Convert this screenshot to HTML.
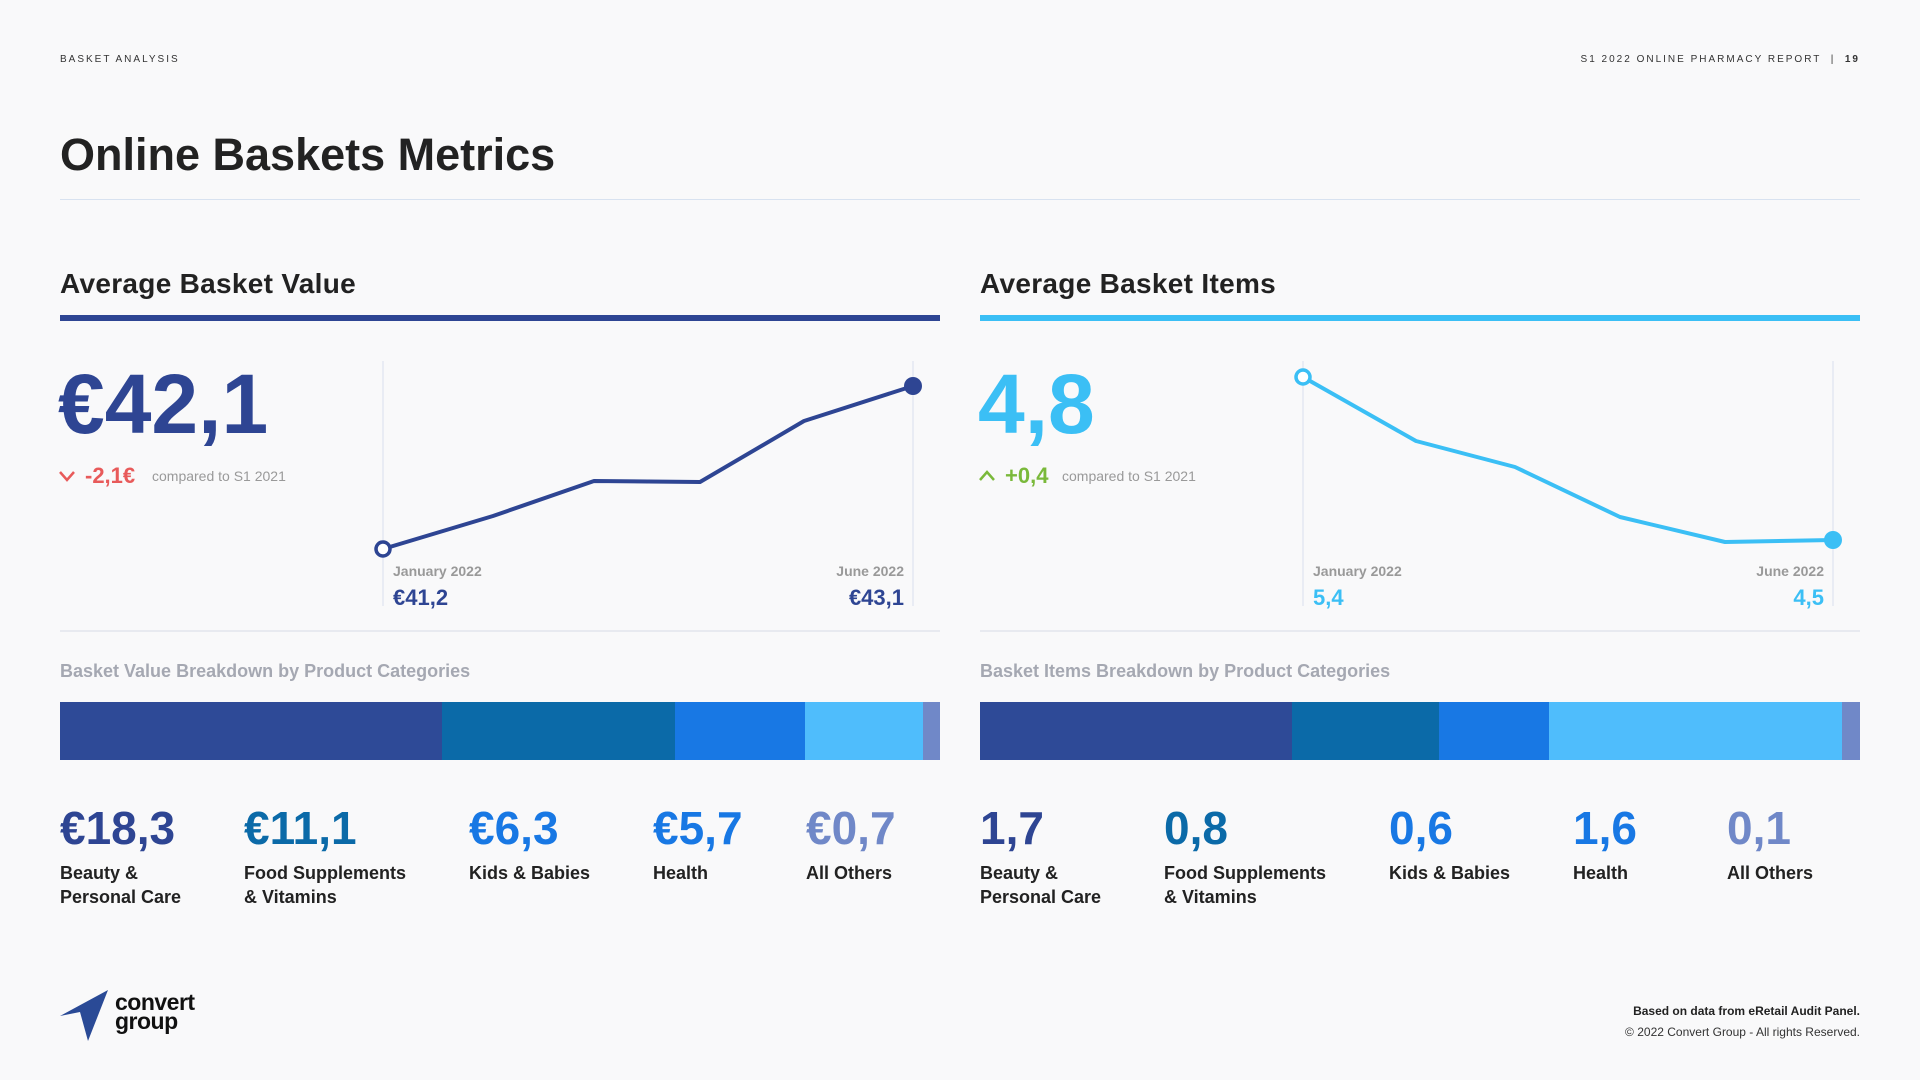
<!DOCTYPE html>
<html><head><meta charset="utf-8"><style>
*{margin:0;padding:0;box-sizing:border-box}
body{width:1920px;height:1080px;background:#f9f9fa;font-family:"Liberation Sans",sans-serif;position:relative;overflow:hidden;color:#222}
.a{position:absolute;white-space:nowrap;line-height:1}
.hd{font-size:10px;letter-spacing:2px;color:#333;top:55px}
.big{font-weight:bold;font-size:84px;letter-spacing:0px;top:362px}
.sub{font-size:22px;top:465px;font-weight:bold}
.cmp{font-size:14px;color:#999;top:469px}
.lab{font-size:14px;color:#999;font-weight:bold;top:564px}
.val{font-size:22px;font-weight:bold;top:587px}
.st{font-size:18px;font-weight:bold;color:#a5a8b2;top:662px}
.num{font-size:46px;font-weight:bold;letter-spacing:0px;top:805px}
.cat{font-size:18px;font-weight:bold;color:#222;line-height:24px;top:861px}
.seg{position:absolute;top:702px;height:58px}
</style></head><body>
<div class="a hd" style="left:60px">BASKET ANALYSIS</div>
<div class="a hd" style="right:60px">S1 2022 ONLINE PHARMACY REPORT &nbsp;| &nbsp;<b>19</b></div>
<div class="a" style="left:60px;top:132px;font-size:45px;font-weight:bold;color:#222">Online Baskets Metrics</div>
<div class="a" style="left:60px;top:199px;width:1800px;height:1px;background:#d8e2f0"></div>

<div class="a" style="left:60px;top:270px;font-size:28px;font-weight:bold;letter-spacing:0.3px">Average Basket Value</div>
<div class="a" style="left:980px;top:270px;font-size:28px;font-weight:bold;letter-spacing:0.3px">Average Basket Items</div>
<div class="a" style="left:60px;top:315px;width:880px;height:6px;background:#2e4593"></div>
<div class="a" style="left:980px;top:315px;width:880px;height:6px;background:#3bbff5"></div>

<div class="a big" style="left:58px;color:#2e4593">€42,1</div>
<div class="a big" style="left:978px;color:#3bbff5">4,8</div>
<svg class="a" style="left:58px;top:469px" width="20" height="14"><polyline points="2,3 9,11 16,3" fill="none" stroke="#e85a5a" stroke-width="2.5"/></svg>
<div class="a sub" style="left:85px;color:#e85a5a">-2,1€</div>
<div class="a cmp" style="left:152px">compared to S1 2021</div>
<svg class="a" style="left:978px;top:469px" width="20" height="14"><polyline points="2,11 9,3 16,11" fill="none" stroke="#7ab93a" stroke-width="2.5"/></svg>
<div class="a sub" style="left:1005px;color:#7ab93a">+0,4</div>
<div class="a cmp" style="left:1062px">compared to S1 2021</div>

<svg class="a" style="left:0;top:0" width="1920" height="1080">
<g stroke="#e4e8f2" stroke-width="1.5">
<line x1="383" y1="361" x2="383" y2="606"/><line x1="913" y1="361" x2="913" y2="606"/>
<line x1="1303" y1="361" x2="1303" y2="606"/><line x1="1833" y1="361" x2="1833" y2="606"/>
</g>
<polyline points="383,549 493,516 594,481 700,482 804,421 913,386" fill="none" stroke="#2e4593" stroke-width="4" stroke-linejoin="round"/>
<circle cx="383" cy="549" r="7" fill="#fff" stroke="#2e4593" stroke-width="3.5"/>
<circle cx="913" cy="386" r="9" fill="#2e4593"/>
<polyline points="1303,377 1416,441 1515,467 1620,517 1725,542 1833,540" fill="none" stroke="#3bbff5" stroke-width="4" stroke-linejoin="round"/>
<circle cx="1303" cy="377" r="7" fill="#fff" stroke="#3bbff5" stroke-width="3.5"/>
<circle cx="1833" cy="540" r="9" fill="#3bbff5"/>
<line x1="60" y1="631" x2="940" y2="631" stroke="#e2e5ec" stroke-width="1.5"/>
<line x1="980" y1="631" x2="1860" y2="631" stroke="#e2e5ec" stroke-width="1.5"/>
<polygon points="60,1016 108,990 88,1041 80,1012" fill="#2a4a96"/>
</svg>

<div class="a lab" style="left:393px">January 2022</div>
<div class="a lab" style="right:1016px">June 2022</div>
<div class="a val" style="left:393px;color:#2e4593">€41,2</div>
<div class="a val" style="right:1016px;color:#2e4593">€43,1</div>
<div class="a lab" style="left:1313px">January 2022</div>
<div class="a lab" style="right:96px">June 2022</div>
<div class="a val" style="left:1313px;color:#3bbff5">5,4</div>
<div class="a val" style="right:96px;color:#3bbff5">4,5</div>

<div class="a st" style="left:60px">Basket Value Breakdown by Product Categories</div>
<div class="a st" style="left:980px">Basket Items Breakdown by Product Categories</div>

<div class="seg" style="left:60px;width:382px;background:#2e4a97"></div>
<div class="seg" style="left:442px;width:233px;background:#0b6aa8"></div>
<div class="seg" style="left:675px;width:130px;background:#1878e4"></div>
<div class="seg" style="left:805px;width:118px;background:#4fbdfc"></div>
<div class="seg" style="left:923px;width:17px;background:#7088c8"></div>
<div class="seg" style="left:980px;width:312px;background:#2e4a97"></div>
<div class="seg" style="left:1292px;width:147px;background:#0b6aa8"></div>
<div class="seg" style="left:1439px;width:110px;background:#1878e4"></div>
<div class="seg" style="left:1549px;width:293px;background:#4fbdfc"></div>
<div class="seg" style="left:1842px;width:18px;background:#7088c8"></div>

<div class="a num" style="left:60px;color:#2e4593">€18,3</div>
<div class="a num" style="left:244px;color:#0b6aa8">€11,1</div>
<div class="a num" style="left:469px;color:#1878e4">€6,3</div>
<div class="a num" style="left:653px;color:#1878e4">€5,7</div>
<div class="a num" style="left:806px;color:#7088c8">€0,7</div>
<div class="a num" style="left:980px;color:#2e4593">1,7</div>
<div class="a num" style="left:1164px;color:#0b6aa8">0,8</div>
<div class="a num" style="left:1389px;color:#1878e4">0,6</div>
<div class="a num" style="left:1573px;color:#1878e4">1,6</div>
<div class="a num" style="left:1727px;color:#7088c8">0,1</div>

<div class="a cat" style="left:60px">Beauty &amp;<br>Personal Care</div>
<div class="a cat" style="left:244px">Food Supplements<br>&amp; Vitamins</div>
<div class="a cat" style="left:469px">Kids &amp; Babies</div>
<div class="a cat" style="left:653px">Health</div>
<div class="a cat" style="left:806px">All Others</div>
<div class="a cat" style="left:980px">Beauty &amp;<br>Personal Care</div>
<div class="a cat" style="left:1164px">Food Supplements<br>&amp; Vitamins</div>
<div class="a cat" style="left:1389px">Kids &amp; Babies</div>
<div class="a cat" style="left:1573px">Health</div>
<div class="a cat" style="left:1727px">All Others</div>

<div class="a" style="left:115px;top:993px;font-size:23px;font-weight:bold;line-height:19px;letter-spacing:-0.5px;color:#111">convert<br>group</div>
<div class="a" style="right:60px;top:1005px;font-size:12px;font-weight:bold;color:#222">Based on data from eRetail Audit Panel.</div>
<div class="a" style="right:60px;top:1026px;font-size:12px;color:#333">© 2022 Convert Group - All rights Reserved.</div>
</body></html>
